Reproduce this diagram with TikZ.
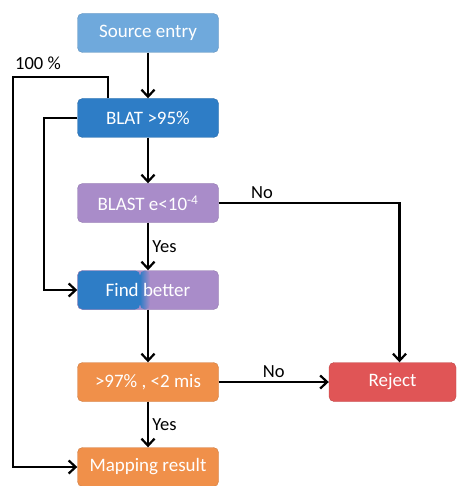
\documentclass[tikz,border=0pt]{standalone}
\usepackage{fontspec}
\setmainfont{Carlito}
\usetikzlibrary{positioning,arrows.meta}
\definecolor{srcblue}{HTML}{6FA9DC}
\definecolor{blatblue}{HTML}{2E7DC6}
\definecolor{blastpurple}{HTML}{A98CC9}
\definecolor{chkorange}{HTML}{F0904A}
\definecolor{rejred}{HTML}{E05556}

\begin{document}
\begin{tikzpicture}[x=1pt,y=1pt,node distance=85pt,on grid,auto,
    box/.style={rectangle,rounded corners=5pt,minimum width=141pt,minimum height=39pt,
      text=white,font=\fontsize{19}{22}\selectfont,draw=#1!85!black,fill=#1,line width=0.4pt},
    flow/.style={line width=2.2pt,-{Straight Barb[length=7pt,width=13pt]}},
    lbl/.style={font=\fontsize{18.5}{22}\selectfont}]
    \useasboundingbox (0,0) rectangle (465,-486);
    \node[box=srcblue] (src) at (148,-33) {Source entry};
    \node[box=blatblue] (blat) [below=of src] {BLAT >95\%};
    \node[box=blastpurple] (blast) [below=of blat] {BLAST e<10\textsuperscript{-4}};
    \node[box=blastpurple,path picture={
        \fill[blatblue] (path picture bounding box.south west) rectangle ([xshift=-8pt]path picture bounding box.north);
        \shade[left color=blatblue,right color=blastpurple] ([xshift=-8pt]path picture bounding box.south) rectangle ([xshift=2pt]path picture bounding box.north);
      }] (find) [below=87pt of blast] {Find better};
    \node[box=chkorange] (chk) [below=92pt of find] {>97\% , <2 mis};
    \node[box=chkorange] (map) [below=of chk] {Mapping result};
    \node[box=rejred,minimum width=127pt] (rej) [right=244.5pt of chk] {Reject};
    \coordinate (loopA) at (13,-77);
    \coordinate (loopB) at (44,-118);
    \node[lbl] (pct) at (38,-63) {100 \%};
    % main flow
    \draw[flow] (src) -- (blat);
    \draw[flow] (blat) -- (blast);
    \draw[flow] (blast) -- node[lbl,right] {Yes} (find);
    \draw[flow] (find) -- (chk);
    \draw[flow] (chk) -- node[lbl,right] {Yes} (map);
    \draw[flow] (chk) -- node[lbl,above] {No} (rej);
    \draw[flow] (blast.east) -| node[lbl,above,pos=0.12] {No} ([xshift=7pt]rej.north);
    % loops back
    \draw[flow] ([xshift=-40pt]blat.north) |- (loopA) |- (map.west);
    \draw[flow] (blat.west) -- (loopB) |- (find.west);
\end{tikzpicture}
\end{document}
